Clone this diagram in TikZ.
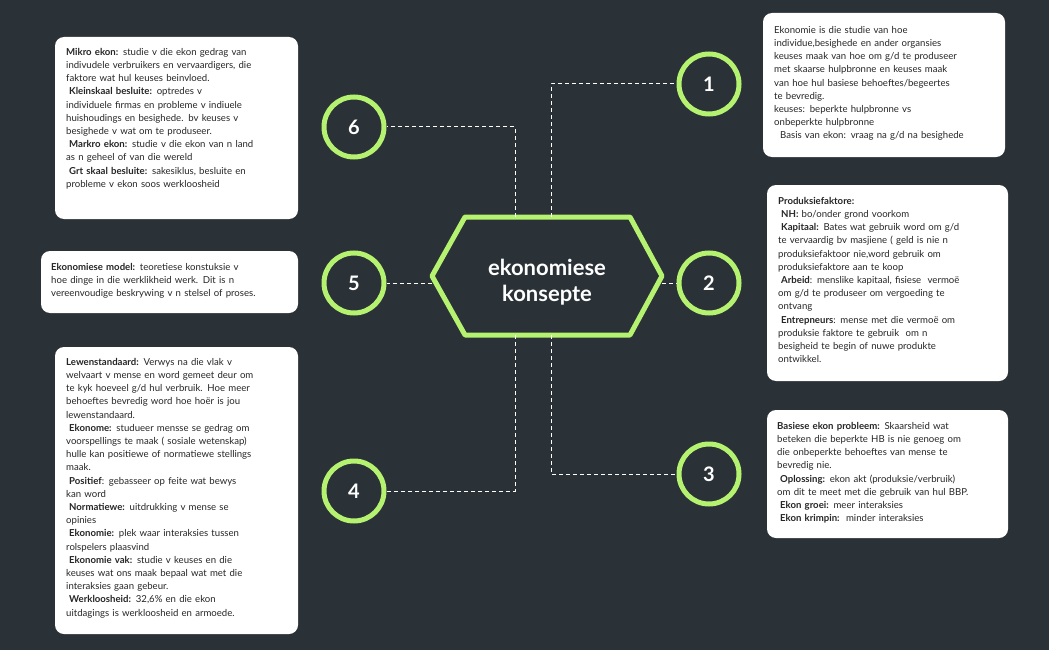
\documentclass[tikz,border=0pt]{standalone}
\usepackage{fontspec}
\setmainfont{Lato}
\begin{document}
\begin{tikzpicture}[x=1pt,y=-1pt,
  box/.style={fill=white,rounded corners=9pt},
  txt/.style={anchor=north west,align=left,inner sep=0pt,font=\fontsize{9.6}{13.2}\selectfont,text=black!85},
  num/.style={circle,draw=lime1,line width=5pt,minimum size=60pt,text=white,font=\fontsize{20}{20}\selectfont\bfseries},
  conn/.style={white,dashed,line width=1pt,dash pattern=on 4pt off 3pt}]
\definecolor{bg}{HTML}{2A3238}
\definecolor{lime1}{HTML}{B5F26F}
\useasboundingbox[fill=bg] (0,0) rectangle (1049,650);
% hexagon
\draw[lime1,line width=5pt,line join=round] (432,276)--(465,217)--(630,217)--(662,276)--(630,335)--(465,335)--cycle;
\node[text=white,font=\fontsize{22}{26}\selectfont\bfseries,align=center] (c) at (547,282) {ekonomiese\\konsepte};
\coordinate (h1) at (551,217); \coordinate (h6) at (515,217);
\coordinate (h3) at (551,335); \coordinate (h4) at (515,335);
\coordinate (h2) at (662,283); \coordinate (h5) at (432,283);
\node[num] (n1) at (709,84) {1};
\node[num] (n2) at (709,283) {2};
\node[num] (n3) at (709,474) {3};
\node[num] (n4) at (354,491) {4};
\node[num] (n5) at (354,283) {5};
\node[num] (n6) at (354,127) {6};
\draw[conn] (h1) |- (n1.west);
\draw[conn] (h6) |- (n6.east);
\draw[conn] (h3) |- (n3.west);
\draw[conn] (h4) |- (n4.east);
\draw[conn] (h2) -- (n2.west);
\draw[conn] (h5) -- (n5.east);
% boxes
\fill[box] (763,13) rectangle (1005,157);
\node[txt,text width=230pt] (t1) at (774,26) {Ekonomie is die studie van hoe\\individue,besighede en ander organsies\\keuses maak van hoe om g/d te produseer\\met skaarse hulpbronne en keuses maak\\van hoe hul basiese behoeftes/begeertes\\te bevredig.\\keuses: beperkte hulpbronne vs\\onbeperkte hulpbronne\\\hspace*{6pt}Basis van ekon: vraag na g/d na besighede};
\fill[box] (767,185) rectangle (1008,381);
\node[txt,text width=230pt] (t2) at (778,197) {\textbf{Produksiefaktore:}\\\hspace*{3pt}\textbf{NH:} bo/onder grond voorkom\\\hspace*{3pt}\textbf{Kapitaal:} Bates wat gebruik word om g/d\\te vervaardig bv masjiene ( geld is nie n\\produksiefaktoor nie,word gebruik om\\produksiefaktore aan te koop\\\hspace*{3pt}\textbf{Arbeid}: menslike kapitaal, fisiese\ \ vermoë\\om g/d te produseer om vergoeding te\\ontvang\\\hspace*{3pt}\textbf{Entrepneurs}: mense met die vermoë om\\produksie faktore te gebruik\ \ om n\\besigheid te begin of nuwe produkte\\ontwikkel.};
\fill[box] (767,410) rectangle (1008,538);
\node[txt,text width=230pt] (t3) at (777,422) {\textbf{Basiese ekon probleem:} Skaarsheid wat\\beteken die beperkte HB is nie genoeg om\\die onbeperkte behoeftes van mense te\\bevredig nie.\\\hspace*{3pt}\textbf{Oplossing:} ekon akt (produksie/verbruik)\\om dit te meet met die gebruik van hul BBP.\\\hspace*{3pt}\textbf{Ekon groei:} meer interaksies\\\hspace*{3pt}\textbf{Ekon krimpin:}\ \ minder interaksies};
\fill[box] (55,347) rectangle (298,634);
\node[txt,text width=235pt] (t4) at (66,358) {\textbf{Lewenstandaard:} Verwys na die vlak v\\welvaart v mense en word gemeet deur om\\te kyk hoeveel g/d hul verbruik. Hoe meer\\behoeftes bevredig word hoe hoër is jou\\lewenstandaard.\\\hspace*{3pt}\textbf{Ekonome:} studueer mensse se gedrag om\\voorspellings te maak ( sosiale wetenskap)\\hulle kan positiewe of normatiewe stellings\\maak.\\\hspace*{3pt}\textbf{Positief}: gebasseer op feite wat bewys\\kan word\\\hspace*{3pt}\textbf{Normatiewe:} uitdrukking v mense se\\opinies\\\hspace*{3pt}\textbf{Ekonomie:} plek waar interaksies tussen\\rolspelers plaasvind\\\hspace*{3pt}\textbf{Ekonomie vak:} studie v keuses en die\\keuses wat ons maak bepaal wat met die\\interaksies gaan gebeur.\\\hspace*{3pt}\textbf{Werkloosheid:} 32,6\% en die ekon\\uitdagings is werkloosheid en armoede.};
\fill[box] (41,251) rectangle (298,313);
\node[txt,text width=250pt] (t5) at (51,263) {\textbf{Ekonomiese model:} teoretiese konstuksie v\\hoe dinge in die werklikheid werk. Dit is n\\vereenvoudige beskrywing v n stelsel of proses.};
\fill[box] (55,37) rectangle (298,219);
\node[txt,text width=235pt] (t6) at (66,48) {\textbf{Mikro ekon:} studie v die ekon gedrag van\\indivudele verbruikers en vervaardigers, die\\faktore wat hul keuses beinvloed.\\\hspace*{3pt}\textbf{Kleinskaal besluite:} optredes v\\individuele firmas en probleme v indiuele\\huishoudings en besighede. bv keuses v\\besighede v wat om te produseer.\\\hspace*{3pt}\textbf{Markro ekon:} studie v die ekon van n land\\as n geheel of van die wereld\\\hspace*{3pt}\textbf{Grt skaal besluite:} sakesiklus, besluite en\\probleme v ekon soos werkloosheid};
\end{tikzpicture}
\end{document}
